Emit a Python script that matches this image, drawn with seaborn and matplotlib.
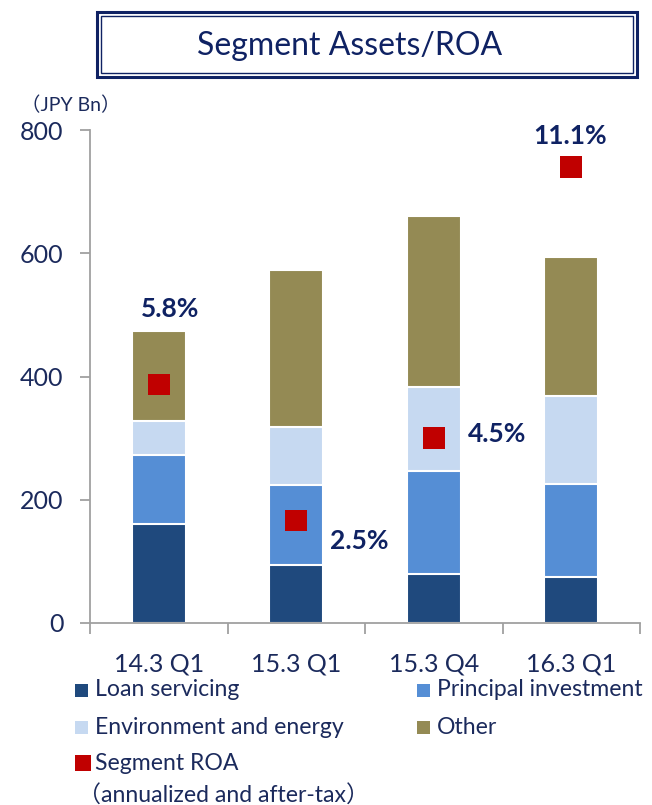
import numpy as np
import pandas as pd
import matplotlib.pyplot as plt
import seaborn as sns
from matplotlib.patches import Rectangle

# Data (JPY Bn)
periods = ['14.3 Q1', '15.3 Q1', '15.3 Q4', '16.3 Q1']
loan_servicing = [161, 94, 80, 75]
principal_investment = [112, 130, 167, 151]
environment_energy = [55, 94, 136, 142]
other = [146, 255, 278, 226]
roa = [5.8, 2.5, 4.5, 11.1]  # % annualized, after-tax

series_names = ['Loan servicing', 'Principal investment', 'Environment and energy', 'Other']
colors = ['#1F497D', '#558ED5', '#C6D9F1', '#948A54']
roa_color = '#C00000'
navy = '#0F2263'
text_navy = '#1B2A5C'

sns.set_theme(style='white')
plt.rcParams['font.family'] = ['Lato', 'Noto Sans CJK JP', 'DejaVu Sans']

df = pd.DataFrame({'period': periods,
                   'Loan servicing': loan_servicing,
                   'Principal investment': principal_investment,
                   'Environment and energy': environment_energy,
                   'Other': other})
cum = df[series_names].cumsum(axis=1)

fig = plt.figure(figsize=(6.52, 8.05), dpi=100)
ax = fig.add_axes([90 / 652, 1 - 623 / 805, 550 / 652, 493 / 805])

# stacked bars: draw cumulative totals from top layer down
for name, col in reversed(list(zip(series_names, colors))):
    sns.barplot(x=df['period'], y=cum[name], color=col, width=0.39,
                saturation=1, edgecolor='white', linewidth=1.5, ax=ax, zorder=2)

ax.set_xlim(-0.5, 3.5)
ax.set_ylim(0, 800)
ax.set_yticks([0, 200, 400, 600, 800])
ax.set_xlabel('')
ax.set_ylabel('')
ax.set_xticks([0, 1, 2, 3])
ax.set_xticklabels(periods)
ax.tick_params(axis='y', labelsize=18, colors='#A0A0A0', labelcolor=text_navy,
               length=7, width=1.3, direction='out', left=True, pad=12)
ax.tick_params(axis='x', labelsize=18, labelcolor=text_navy, bottom=False, pad=15)
# category boundary ticks on x axis
ax.set_xticks([-0.5, 0.5, 1.5, 2.5, 3.5], minor=True)
ax.tick_params(axis='x', which='minor', bottom=True, length=8, width=1.3,
               colors='#A0A0A0', direction='out')
for s in ['top', 'right']:
    ax.spines[s].set_visible(False)
for s in ['left', 'bottom']:
    ax.spines[s].set_color('#A0A0A0')
    ax.spines[s].set_linewidth(1.3)

# ROA markers on a hidden secondary scale
ax2 = ax.twinx()
ax2.set_ylim(0, 12)
sns.scatterplot(x=np.arange(len(periods)), y=roa, marker='s', s=240,
                color=roa_color, edgecolor='none', ax=ax2, zorder=3)
ax2.set_xlim(-0.5, 3.5)
ax2.axis('off')

label_pos = [(0.08, 7.65), (1.46, 2.0), (2.46, 4.6), (2.99, 11.85)]
for (x, y), v in zip(label_pos, roa):
    ax2.text(x, y, f'{v}%', ha='center', va='center', fontsize=19,
             fontweight='bold', color=navy)

fig.text(21 / 652, 1 - 105 / 805, '（JPY Bn）', fontsize=14, color=text_navy,
         ha='left', va='center')

# title with double border
fig.patches.append(Rectangle((97 / 652, 1 - 77 / 805), 540 / 652, 65 / 805,
                             transform=fig.transFigure, fill=False,
                             edgecolor=navy, linewidth=2.2))
fig.patches.append(Rectangle((101 / 652, 1 - 73 / 805), 532 / 652, 57 / 805,
                             transform=fig.transFigure, fill=False,
                             edgecolor=navy, linewidth=1.0))
fig.text(350 / 652, 1 - 46 / 805, 'Segment Assets/ROA', fontsize=23,
         color=navy, ha='center', va='center')

# legend, laid out by hand in pixel positions
legend_items = [
    ('Loan servicing', colors[0], 75, 690),
    ('Principal investment', colors[1], 417, 690),
    ('Environment and energy', colors[2], 75, 727),
    ('Other', colors[3], 417, 727),
    ('Segment ROA', roa_color, 75, 763),
]
for label, col, px, py in legend_items:
    size = 16 if col == roa_color else 13
    fig.patches.append(Rectangle((px / 652, 1 - (py + size / 2) / 805),
                                 size / 652, size / 805,
                                 transform=fig.transFigure, facecolor=col,
                                 edgecolor='none'))
    fig.text((px + 20) / 652, 1 - py / 805, label, fontsize=16.6,
             color=text_navy, ha='left', va='center')
fig.text(78 / 652, 1 - 795 / 805, '（annualized and after-tax）', fontsize=16.6,
         color=text_navy, ha='left', va='center')

fig.savefig('out.png', dpi=100)
